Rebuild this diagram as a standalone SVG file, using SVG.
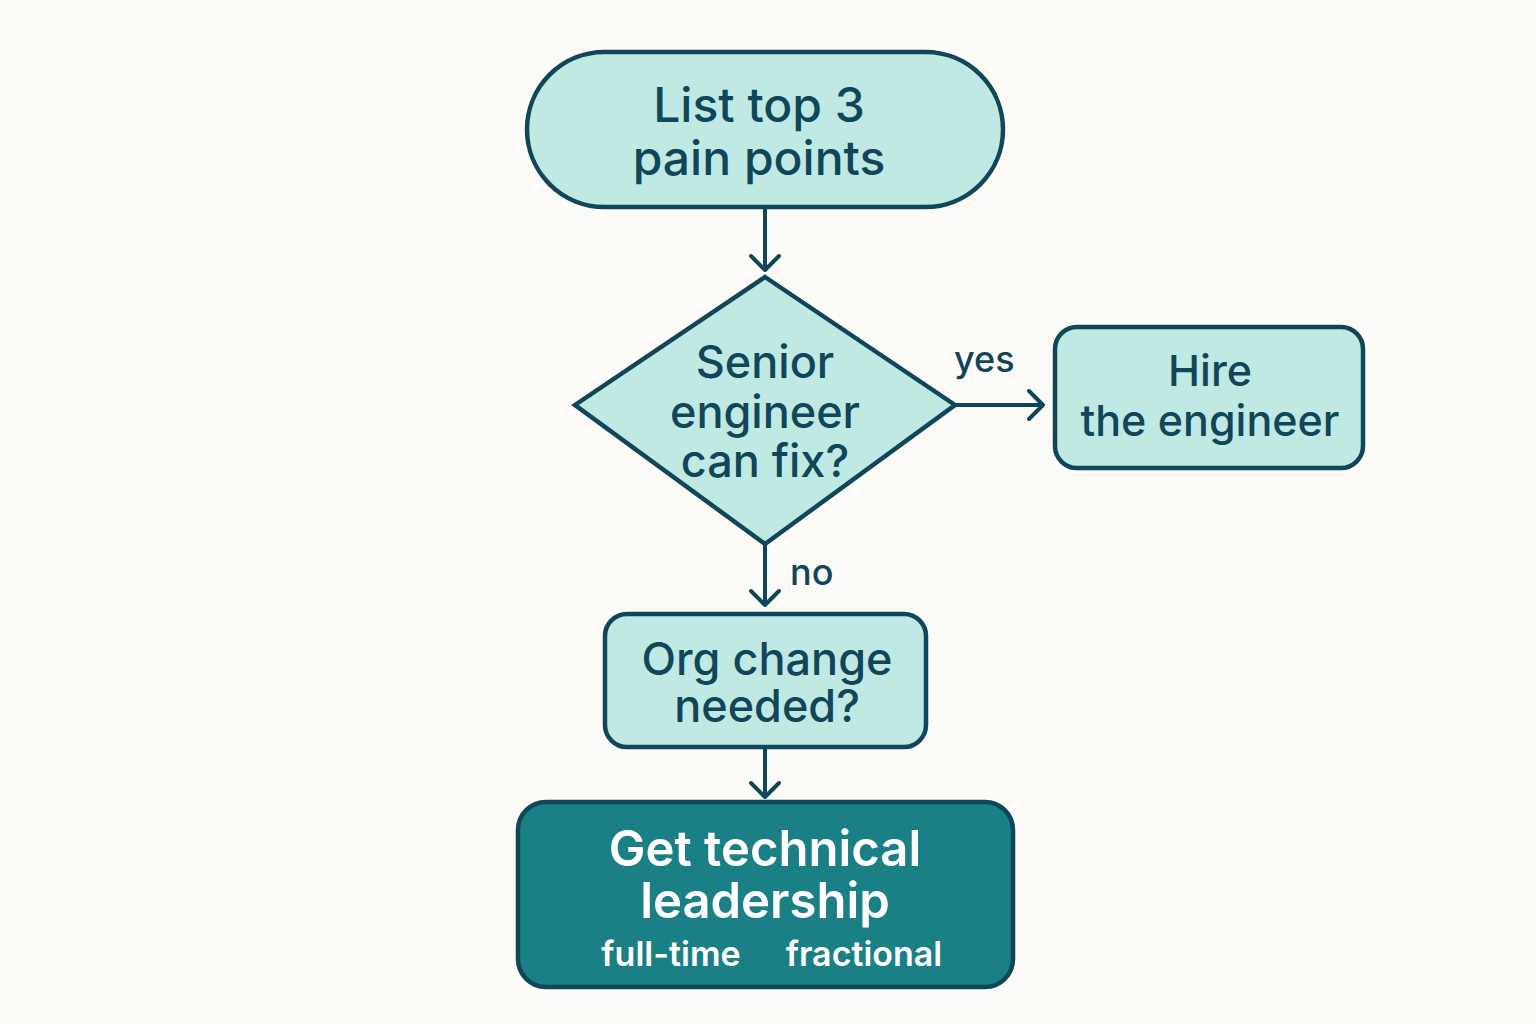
<svg xmlns="http://www.w3.org/2000/svg" width="1536" height="1024" viewBox="0 0 1536 1024">
<style>
.node{fill:#C1E9E4;stroke:#0F4659;stroke-width:4.5}
.dark{fill:#1B8085;stroke:#0F4659;stroke-width:4.5}
.t{font-family:Inter,"Noto Sans",sans-serif;font-weight:500;fill:#0F4659;text-anchor:middle}
.w{font-family:Inter,"Noto Sans",sans-serif;font-weight:600;fill:#FFFFFF;text-anchor:middle}
.lbl{font-family:Inter,"Noto Sans",sans-serif;font-weight:500;fill:#0F4659;font-size:36px}
.edge{stroke:#0F4659;stroke-width:4;fill:none}
</style>
<defs>
<marker id="arr" viewBox="0 0 20 32" refX="18" refY="16" markerWidth="20" markerHeight="32" markerUnits="userSpaceOnUse" orient="auto">
<path d="M4,2 L18,16 L4,30" fill="none" stroke="#0F4659" stroke-width="4" stroke-linecap="round" stroke-linejoin="round"/>
</marker>
</defs>
<rect width="1536" height="1024" fill="#FDFBF7"/>
<g id="connectors">
<line class="edge" x1="765" y1="207" x2="765" y2="270" marker-end="url(#arr)"/>
<line class="edge" x1="955" y1="405" x2="1043" y2="405" marker-end="url(#arr)"/>
<line class="edge" x1="765" y1="544" x2="765" y2="605" marker-end="url(#arr)"/>
<line class="edge" x1="765" y1="747" x2="765" y2="797" marker-end="url(#arr)"/>
<text class="lbl" x="954" y="372">yes</text>
<text class="lbl" x="790" y="585">no</text>
</g>
<g id="n-list">
<rect class="node" x="527" y="52" width="476" height="155" rx="77.5"/>
<text class="t" font-size="48" x="759" y="122">List top 3</text>
<text class="t" font-size="48" x="759" y="175">pain points</text>
</g>
<g id="n-senior">
<polygon class="node" points="765,277 955,405 765,544 575,405"/>
<text class="t" font-size="45" x="765" y="378">Senior</text>
<text class="t" font-size="45" x="765" y="428">engineer</text>
<text class="t" font-size="45" x="765" y="477">can fix?</text>
</g>
<g id="n-hire">
<rect class="node" x="1055" y="327" width="308" height="141" rx="22"/>
<text class="t" font-size="43" x="1210" y="386">Hire</text>
<text class="t" font-size="43" x="1210" y="436">the engineer</text>
</g>
<g id="n-org">
<rect class="node" x="605" y="614" width="321" height="133" rx="22"/>
<text class="t" font-size="45" x="767" y="675">Org change</text>
<text class="t" font-size="45" x="767" y="722">needed?</text>
</g>
<g id="n-lead">
<rect class="dark" x="518" y="802" width="495" height="185" rx="28"/>
<text class="w" font-size="49" x="765" y="866">Get technical</text>
<text class="w" font-size="49" x="765" y="918">leadership</text>
<text class="w" font-size="34" x="671" y="966">full-time</text>
<text class="w" font-size="34" x="864" y="966">fractional</text>
</g>
</svg>
